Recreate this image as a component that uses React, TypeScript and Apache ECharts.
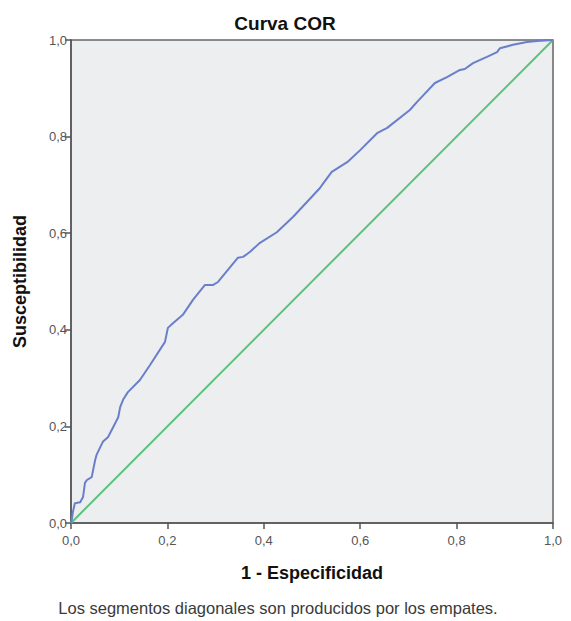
import React, { useEffect, useRef } from "react";
import * as echarts from "echarts";

const fpr = [0, 0.0015, 0.004, 0.008, 0.019, 0.025, 0.029, 0.033, 0.043, 0.05, 0.053, 0.066, 0.077, 0.098, 0.102, 0.108, 0.118, 0.143, 0.164, 0.195, 0.201, 0.212, 0.232, 0.253, 0.278, 0.295, 0.305, 0.346, 0.357, 0.371, 0.392, 0.427, 0.461, 0.49, 0.517, 0.521, 0.541, 0.573, 0.6, 0.635, 0.656, 0.703, 0.718, 0.755, 0.78, 0.807, 0.817, 0.834, 0.863, 0.884, 0.89, 0.917, 0.946, 0.967, 1];
const tpr = [0, 0.006, 0.023, 0.041, 0.043, 0.054, 0.083, 0.089, 0.095, 0.13, 0.141, 0.168, 0.178, 0.219, 0.24, 0.255, 0.271, 0.296, 0.327, 0.375, 0.404, 0.414, 0.431, 0.462, 0.493, 0.493, 0.499, 0.549, 0.551, 0.561, 0.58, 0.602, 0.634, 0.665, 0.694, 0.7, 0.727, 0.747, 0.772, 0.807, 0.818, 0.855, 0.872, 0.911, 0.923, 0.938, 0.94, 0.952, 0.965, 0.975, 0.983, 0.99, 0.996, 0.998, 1];
const diagX = [0, 1];
const diagY = [0, 1];
const title = "Curva COR";
const xName = "1 - Especificidad";
const yName = "Susceptibilidad";
const footnote = "Los segmentos diagonales son producidos por los empates.";

const fmt = (v: number) => v.toFixed(1).replace(".", ",");
const FONT = "Arial, 'Liberation Sans', sans-serif";

export default function App() {
  const ref = useRef<HTMLDivElement>(null);
  useEffect(() => {
    if (!ref.current) return;
    const chart = echarts.init(ref.current, undefined, { renderer: "svg" });
    const axisCommon = {
      min: 0,
      max: 1,
      interval: 0.2,
      splitLine: { show: false },
      axisLine: { show: true, lineStyle: { color: "#555", width: 1.5 } },
      axisTick: { show: true, length: 6, lineStyle: { color: "#555", width: 1.5 } },
      nameLocation: "middle" as const,
      nameTextStyle: { color: "#111", fontSize: 18, fontWeight: "bold" as const, fontFamily: FONT },
    };
    chart.setOption({
      animation: false,
      backgroundColor: "#fff",
      title: {
        text: title,
        left: 280,
        top: 9,
        textAlign: "center",
        textStyle: { fontSize: 19, fontWeight: "bold", color: "#111", fontFamily: FONT },
      },
      grid: {
        left: 71,
        right: 18,
        top: 40,
        bottom: 98,
        show: true,
        backgroundColor: "#eceef0",
        borderColor: "#666",
        borderWidth: 1.5,
      },
      xAxis: {
        ...axisCommon,
        type: "value",
        name: xName,
        nameGap: 41,
        axisLabel: { color: "#555", fontSize: 13, fontFamily: FONT, formatter: fmt, margin: 11 },
      },
      yAxis: {
        ...axisCommon,
        type: "value",
        name: yName,
        nameGap: 42,
        axisLabel: { color: "#555", fontSize: 13, fontFamily: FONT, formatter: fmt, margin: 4 },
      },
      graphic: [
        {
          type: "text",
          x: 278,
          y: 608,
          style: {
            text: footnote,
            fontSize: 16.5,
            fill: "#3a3a3a",
            fontFamily: FONT,
            align: "center",
            verticalAlign: "middle",
          },
        },
      ],
      series: [
        {
          type: "line",
          data: diagX.map((x, i) => [x, diagY[i]]),
          showSymbol: false,
          lineStyle: { color: "#5cc27a", width: 2 },
        },
        {
          type: "line",
          data: fpr.map((x, i) => [x, tpr[i]]),
          showSymbol: false,
          lineStyle: { color: "#6a7fcb", width: 2 },
        },
      ],
    });
    return () => chart.dispose();
  }, []);
  return <div ref={ref} style={{ width: 571, height: 621, position: "absolute", left: 0, top: 0 }} />;
}
